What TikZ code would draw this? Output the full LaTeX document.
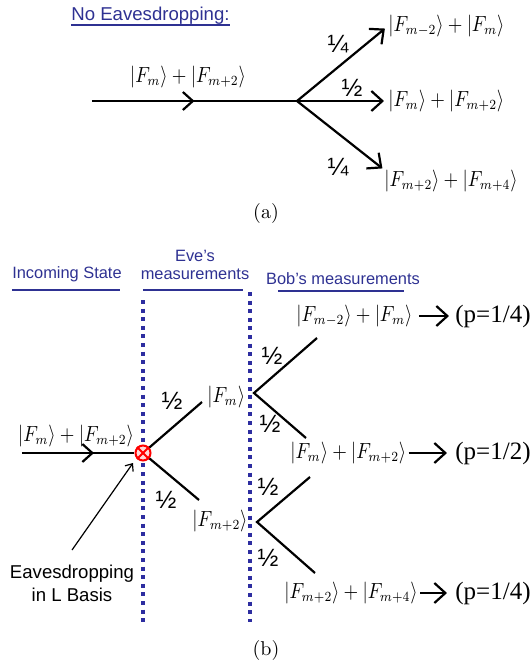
\documentclass[tikz,border=0pt]{standalone}
\usepackage{fontspec}
\newfontfamily\sansf{Liberation Sans}
\newfontfamily\timesf{Liberation Serif}
\usetikzlibrary{arrows.meta,decorations.markings}
\definecolor{eveblue}{RGB}{46,49,146}
\definecolor{dotblue}{RGB}{45,45,160}
\newcommand\ketsum[1]{\scalebox{0.86}[1]{$#1$}}
\begin{document}
\begin{tikzpicture}[x=0.5pt,y=-0.5pt,
  st/.style={inner sep=0pt, font=\fontsize{10.5}{12}\selectfont},
  frac/.style={inner sep=0pt, font=\sansf\fontsize{12.5}{14}\selectfont},
  hdr/.style={inner sep=0pt, text=eveblue, font=\sansf\fontsize{9.3}{9}\selectfont, align=center},
  hdrb/.style={hdr, font=\sansf\fontsize{8.2}{9}\selectfont},
  pr/.style={inner sep=0pt, font=\timesf\fontsize{12.5}{14}\selectfont},
  br/.style={line width=1.1pt, -{Straight Barb[length=5.5pt,width=10pt,line width=1.1pt]}},
  ln/.style={line width=1.1pt},
  midarr/.style={postaction={decorate}, decoration={markings, mark=at position #1 with {\arrow{Straight Barb[length=5pt,width=9pt,line width=1.1pt]}}}},
  ul/.style={eveblue, line width=0.6pt},
  vdot/.style={dotblue, line width=1.6pt, dash pattern=on 2pt off 2.3pt},
  captxt/.style={inner sep=0pt, font=\fontsize{10}{12}\selectfont},
]
\useasboundingbox (0,0) rectangle (532,661);
% ---------------- (a) ----------------
\node[hdr, anchor=west] (noeve) at (71,16) {No Eavesdropping:};
\draw[ul] (71,25) -- (230,25);
\coordinate (a0) at (92,101);
\coordinate (ab) at (297,101);
\draw[ln, midarr=0.5] (a0) -- (ab);
\node[st] (ain) at (188,77) {\ketsum{|F_m\rangle+|F_{m+2}\rangle}};
\node[st, anchor=west] (a1) at (388,26) {\ketsum{|F_{m-2}\rangle+|F_m\rangle}};
\node[st, anchor=west] (a2) at (388,101) {\ketsum{|F_m\rangle+|F_{m+2}\rangle}};
\node[st, anchor=west] (a3) at (384,181) {\ketsum{|F_{m+2}\rangle+|F_{m+4}\rangle}};
\draw[br, shorten >=2pt] (ab) -- (a1.west);
\draw[br, shorten >=2pt] (ab) -- (a2.west);
\draw[br, shorten >=1pt] (ab) -- (a3.north west);
\node[frac] (fa1) at (338,44) {¼};
\node[frac] (fa2) at (352,88) {½};
\node[frac] (fa3) at (338,167) {¼};
\node[captxt] (capa) at (266,213) {(a)};
% ---------------- (b) ----------------
\node[hdrb] (inc) at (67,274) {Incoming State};
\draw[ul] (12,290) -- (120,290);
\node[hdrb] (eve) at (195,265) {Eve’s\\measurements};
\draw[ul] (143,290) -- (243,290);
\node[hdrb] (bob) at (343,279) {Bob’s measurements};
\draw[ul] (278,291) -- (404,291);
\draw[vdot] (143,300) -- (143,622);
\draw[vdot] (250,292) -- (250,622);
% Eve's measurement point
\node[circle, draw=red, fill=red!15!white, line width=1pt, minimum size=7.5pt, inner sep=0pt] (eve0) at (143,453) {};
\draw[red, line width=0.9pt] (eve0.north west) -- (eve0.south east) (eve0.north east) -- (eve0.south west);
\coordinate (b0) at (22,453);
\draw[ln, midarr=0.64] (b0) -- (eve0.west);
\node[st] (bin) at (76,436) {\ketsum{|F_m\rangle+|F_{m+2}\rangle}};
\node[inner sep=0pt, align=center, font=\sansf\fontsize{9.3}{11.5}\selectfont] (evtext) at (72,583) {Eavesdropping\\in L Basis};
\draw[line width=0.6pt, -{Straight Barb[length=3pt,width=5pt,line width=0.6pt]}] (72,550) -- (133,463);
% Eve's branches
\coordinate (e1) at (202,402);
\coordinate (e2) at (199,500);
\draw[ln] (eve0) -- (e1);
\draw[ln] (eve0) -- (e2);
\node[frac] (fe1) at (172,401) {½};
\node[frac] (fe2) at (166,500) {½};
\node[st, anchor=west] (em) at (207,397) {\ketsum{|F_m\rangle}};
\node[st] (em2) at (220,521) {\ketsum{|F_{m+2}\rangle}};
% Bob's branches
\coordinate (v1) at (254,393);
\coordinate (u1) at (317,338);
\coordinate (d1) at (306,438);
\draw[ln] (u1) -- (v1) -- (d1);
\node[frac] (fb1) at (272,356) {½};
\node[frac] (fb2) at (270,424) {½};
\coordinate (v2) at (257,522);
\coordinate (u2) at (310,477);
\coordinate (d2) at (315,573);
\draw[ln] (u2) -- (v2) -- (d2);
\node[frac] (fb3) at (268,487) {½};
\node[frac] (fb4) at (268,558) {½};
% Bob's outcomes
\node[st, anchor=west] (o1) at (296,316) {\ketsum{|F_{m-2}\rangle+|F_m\rangle}};
\node[st, anchor=west] (o2) at (290,453) {\ketsum{|F_m\rangle+|F_{m+2}\rangle}};
\node[st, anchor=west] (o3) at (284,593) {\ketsum{|F_{m+2}\rangle+|F_{m+4}\rangle}};
\node[pr, anchor=west] (p1) at (455,316) {(p=1/4)};
\node[pr, anchor=west] (p2) at (455,453) {(p=1/2)};
\node[pr, anchor=west] (p3) at (455,593) {(p=1/4)};
\draw[br, shorten <=3pt, shorten >=3pt] (o1.east) -- (p1.west);
\draw[br, shorten <=1pt, shorten >=4pt] (o2.east) -- (p2.west);
\draw[br, shorten <=1pt, shorten >=4pt] (o3.east) -- (p3.west);
\node[captxt] (capb) at (266,650) {(b)};
\end{tikzpicture}
\end{document}
